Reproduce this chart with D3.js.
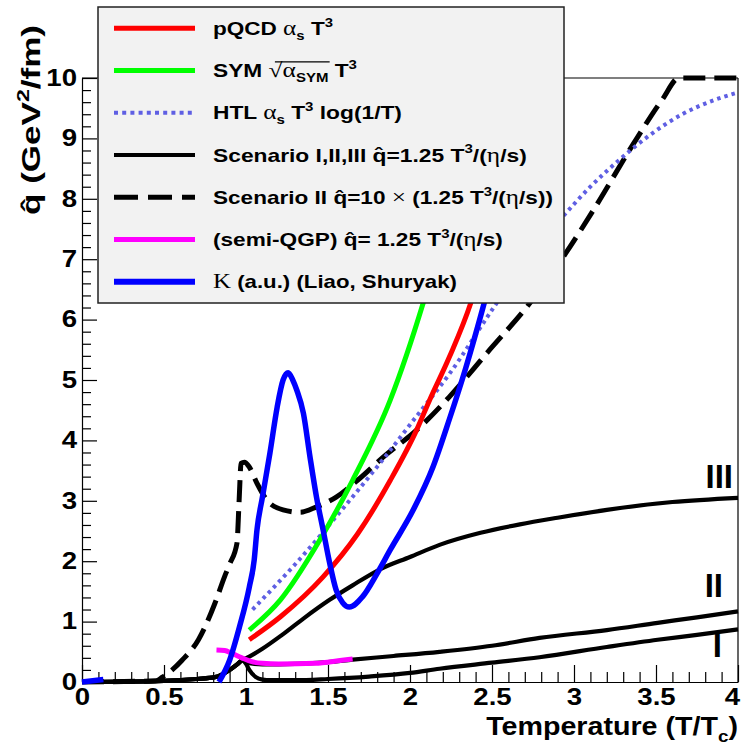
<!DOCTYPE html>
<html><head><meta charset="utf-8">
<script src="https://cdn.jsdelivr.net/npm/d3@7"></script>
<style>
body{margin:0;background:#fff}
svg{display:block}
text{font-family:'Liberation Sans',Arial,Helvetica,sans-serif;font-weight:bold;fill:#000}
</style></head>
<body><svg id="c" width="744" height="745"></svg>
<script>
// ---------- data ----------
const xTicks = [0, 0.5, 1, 1.5, 2, 2.5, 3, 3.5, 4];
const xTickLabels = ["0", "0.5", "1", "1.5", "2", "2.5", "3", "3.5", "4"];
const yTicks = [0, 1, 2, 3, 4, 5, 6, 7, 8, 9, 10];
const yTickLabels = ["0", "1", "2", "3", "4", "5", "6", "7", "8", "9", "10"];

const scenIT = [0, 0.5, 0.7, 0.81, 0.9, 0.95, 0.976, 1.0, 1.02, 1.06, 1.1, 1.15, 1.3, 1.5, 1.75, 2.0, 2.18, 2.5, 2.79, 3.2, 3.51, 3.75, 4.0];
const scenIQ = [0, 0.02, 0.05, 0.08, 0.2, 0.3, 0.36, 0.3, 0.2, 0.08, 0.04, 0.03, 0.03, 0.05, 0.09, 0.15, 0.22, 0.32, 0.41, 0.58, 0.70, 0.78, 0.87];

const scenIIT = [0, 0.5, 0.7, 0.81, 0.9, 0.95, 0.976, 1.02, 1.1, 1.3, 1.5, 1.65, 1.9, 2.18, 2.5, 2.79, 3.2, 3.51, 3.75, 4.0];
const scenIIQ = [0, 0.02, 0.05, 0.08, 0.2, 0.3, 0.36, 0.31, 0.29, 0.3, 0.33, 0.37, 0.43, 0.5, 0.6, 0.73, 0.86, 0.98, 1.07, 1.17];

const scenIIIT = [0, 0.5, 0.7, 0.81, 0.9, 0.95, 0.976, 1.02, 1.1, 1.22, 1.35, 1.51, 1.65, 1.82, 2.0, 2.18, 2.43, 2.67, 2.9, 3.2, 3.6, 4.0];
const scenIIIQ = [0, 0.02, 0.05, 0.08, 0.2, 0.3, 0.36, 0.42, 0.55, 0.78, 1.05, 1.36, 1.6, 1.87, 2.07, 2.27, 2.47, 2.61, 2.72, 2.85, 2.98, 3.05];

const dashT = [0, 0.45, 0.49, 0.55, 0.61, 0.71, 0.81, 0.87, 0.9, 0.945, 0.958, 0.97, 0.99, 1.02, 1.067, 1.128, 1.226, 1.33, 1.43, 1.55, 1.68, 1.84, 2.04, 2.24, 2.47, 2.73, 2.95, 3.12, 3.36, 3.54, 3.64, 4.0];
const dashQ = [0, 0.02, 0.08, 0.2, 0.36, 0.7, 1.3, 1.75, 1.95, 2.3, 3.0, 3.62, 3.64, 3.56, 3.29, 3.01, 2.85, 2.81, 2.9, 3.06, 3.34, 3.73, 4.17, 4.72, 5.45, 6.27, 7.1, 7.82, 8.9, 9.65, 10, 10];

const htlT = [1.04, 1.3, 1.63, 1.84, 2.04, 2.24, 2.51, 2.7, 2.93, 3.1, 3.3, 3.46, 3.66, 3.85, 4.0];
const htlQ = [1.2, 1.95, 3.0, 3.7, 4.4, 5.1, 6.2, 6.95, 7.7, 8.2, 8.7, 9.05, 9.4, 9.63, 9.76];

const pqcdT = [1.02, 1.21, 1.47, 1.68, 1.88, 2.04, 2.12, 2.24, 2.37, 2.45];
const pqcdQ = [0.70, 1.08, 1.74, 2.45, 3.34, 4.17, 4.67, 5.38, 6.27, 7.0];

const symT = [1.02, 1.21, 1.45, 1.65, 1.88, 2.08, 2.2];
const symQ = [0.86, 1.36, 2.35, 3.34, 4.67, 6.27, 7.4];

const semiT = [0.82, 0.87, 0.91, 0.975, 1.03, 1.1, 1.2, 1.42, 1.585, 1.65];
const semiQ = [0.53, 0.52, 0.48, 0.40, 0.34, 0.31, 0.30, 0.31, 0.36, 0.38];

const kLowT = [0, 0.13];
const kLowQ = [0.0, 0.04];
const kT = [0.835, 0.9, 0.96, 1.02, 1.05, 1.067, 1.1, 1.146, 1.19, 1.226, 1.257, 1.285, 1.31, 1.35, 1.39, 1.43, 1.47, 1.51, 1.55, 1.59, 1.63, 1.71, 1.80, 1.88, 2.02, 2.14, 2.24, 2.34, 2.445, 2.55];
const kQ = [0, 0.36, 0.91, 1.57, 2.02, 2.52, 3.06, 3.79, 4.55, 5.0, 5.12, 5.0, 4.83, 4.45, 3.73, 3.06, 2.52, 1.97, 1.52, 1.31, 1.24, 1.41, 1.80, 2.19, 2.85, 3.56, 4.35, 5.2, 6.2, 7.3];

// legend labels: [text, kind] kind: '' normal, 'g' greek/serif, 'sub', 'sup'
const legendLabels = [
  [["pQCD ", ""], ["\u03B1", "g"], ["s", "sub"], [" T", ""], ["3", "sup"]],
  [["SYM ", ""], ["\u221A", "g"], ["\u03B1", "g"], ["SYM", "sub"], [" T", ""], ["3", "sup"]],
  [["HTL ", ""], ["\u03B1", "g"], ["s", "sub"], [" T", ""], ["3", "sup"], [" log(1/T)", ""]],
  [["Scenario I,II,III q\u0302=1.25 T", ""], ["3", "sup"], ["/(", ""], ["\u03B7", "g"], ["/s)", ""]],
  [["Scenario II q\u0302=10 ", ""], ["\u00D7", "g"], [" (1.25 T", ""], ["3", "sup"], ["/(", ""], ["\u03B7", "g"], ["/s))", ""]],
  [["(semi-QGP) q\u0302= 1.25 T", ""], ["3", "sup"], ["/(", ""], ["\u03B7", "g"], ["/s)", ""]],
  [["K", "g"], [" (a.u.) (Liao, Shuryak)", ""]]
];
const legendWidths = [120, 144, 189, 314, 340, 290, 244];
const scenarioNames = ["I", "II", "III"];

// ---------- setup ----------
const svg = d3.select("#c");
const x = d3.scaleLinear().domain([0, 4]).range([82, 738]);
const y = d3.scaleLinear().domain([0, 10]).range([682, 78]);
const line = d3.line().x(d => x(d[0])).y(d => y(d[1])).curve(d3.curveMonotoneX);
const zip = (a, b) => a.map((v, i) => [v, b[i]]);

const styles = {
  black: {stroke: "#000", w: 4.2, dash: null},
  dashed: {stroke: "#000", w: 5, dash: "22,9"},
  htl: {stroke: "#5f5fe3", w: 4, dash: "3.5,4"},
  red: {stroke: "#ff0000", w: 5, dash: null},
  green: {stroke: "#00ff00", w: 5, dash: null},
  magenta: {stroke: "#ff00ff", w: 5, dash: null},
  blue: {stroke: "#0000ff", w: 5.5, dash: null}
};
function drawCurve(g, pts, st) {
  g.append("path").attr("d", line(pts)).attr("fill", "none")
    .attr("stroke", st.stroke).attr("stroke-width", st.w)
    .attr("stroke-linejoin", "round")
    .attr("stroke-dasharray", st.dash);
}

// ---------- frame & axes ----------
const frame = svg.append("g");
frame.append("line").attr("x1", x(0)).attr("x2", x(4)).attr("y1", y(10)).attr("y2", y(10)).attr("stroke", "#000").attr("stroke-width", 1.2);
frame.append("line").attr("x1", x(4)).attr("x2", x(4)).attr("y1", y(10)).attr("y2", y(0)).attr("stroke", "#000").attr("stroke-width", 1.2);

const xMinor = d3.range(0, 41).map(i => i / 10).filter(v => Math.abs(v * 2 - Math.round(v * 2)) > 1e-6);
const yMinor = d3.range(0, 51).map(i => i / 5).filter(v => Math.abs(v - Math.round(v)) > 1e-6);

const sx = 1.2;
const gx = svg.append("g").attr("transform", `translate(0,${y(0)})`)
  .call(d3.axisBottom(x).tickValues(xTicks).tickSizeInner(-17).tickSizeOuter(0).tickPadding(6.5)
    .tickFormat((d, i) => xTickLabels[i]));
gx.append("g").call(d3.axisBottom(x).tickValues(xMinor).tickSizeInner(-10).tickSizeOuter(0).tickFormat(""))
  .select(".domain").remove();
const gy = svg.append("g").attr("transform", `translate(${x(0)},0)`)
  .call(d3.axisLeft(y).tickValues(yTicks).tickSizeInner(-15).tickSizeOuter(0).tickPadding(5)
    .tickFormat((d, i) => yTickLabels[i]));
gy.append("g").call(d3.axisLeft(y).tickValues(yMinor).tickSizeInner(-9).tickSizeOuter(0).tickFormat(""))
  .select(".domain").remove();
svg.selectAll(".domain, .tick line").attr("stroke", "#000").attr("stroke-width", 1.2);
svg.selectAll(".tick text").attr("font-size", 23).attr("font-family", null).attr("fill", "#000");
gx.selectAll(".tick text").attr("transform", (d, i) => (i === xTicks.length - 1 ? "translate(-6,0) " : "") + `scale(${sx},1)`);
gy.selectAll(".tick text").attr("x", 0).attr("transform", `translate(-5,0) scale(${sx},1)`);

// ---------- curves ----------
const cg = svg.append("g");
drawCurve(cg, zip(scenIT, scenIQ), styles.black);
drawCurve(cg, zip(scenIIT, scenIIQ), styles.black);
drawCurve(cg, zip(scenIIIT, scenIIIQ), styles.black);
drawCurve(cg, zip(dashT, dashQ), styles.dashed);
drawCurve(cg, zip(htlT, htlQ), styles.htl);
drawCurve(cg, zip(pqcdT, pqcdQ), styles.red);
drawCurve(cg, zip(symT, symQ), styles.green);
drawCurve(cg, zip(semiT, semiQ), styles.magenta);
drawCurve(cg, zip(kLowT, kLowQ), styles.blue);
drawCurve(cg, zip(kT, kQ), styles.blue);

// scenario labels
const labPos = [[722, 657], [723, 597], [733, 488]];
scenarioNames.forEach((n, i) => {
  svg.append("text").attr("x", labPos[i][0]).attr("y", labPos[i][1]).attr("text-anchor", "end")
    .attr("font-size", 33).text(n);
});

// ---------- rich text helper ----------
function rich(textSel, segs, fs) {
  let cur = 0;
  segs.forEach(([s, k]) => {
    const target = k === "sub" ? 0.28 * fs : k === "sup" ? -0.45 * fs : 0;
    const t = textSel.append("tspan").attr("dy", target - cur).text(s);
    cur = target;
    if (k === "sub" || k === "sup") t.attr("font-size", 0.66 * fs);
    if (k === "g") t.attr("font-family", "'Liberation Serif','Times New Roman',serif").attr("font-weight", "normal").attr("font-size", 1.12 * fs);
  });
  return textSel;
}
function fitted(parent, tx, ty, segs, fs, width, anchor, rot) {
  const g = parent.append("g").attr("transform", `translate(${tx},${ty})` + (rot ? ` rotate(${rot})` : ""));
  const inner = g.append("g");
  const t = inner.append("text").attr("text-anchor", anchor || "start").attr("font-size", fs);
  rich(t, segs, fs);
  const w = t.node().getComputedTextLength();
  inner.attr("transform", `scale(${width / w},1)`);
  return {g, inner, t};
}

// ---------- axis titles ----------
fitted(svg, 738, 735, [["Temperature (T/T", ""], ["c", "sub"], [")", ""]], 26, 252, "end");
fitted(svg, 40, 25, [["q\u0302 (GeV", ""], ["2", "sup"], ["/fm)", ""]], 25, 190, "end", -90);

// ---------- legend ----------
const L = {x: 98, y: 7, w: 466, h: 296};
const lg = svg.append("g");
lg.append("rect").attr("x", L.x).attr("y", L.y).attr("width", L.w).attr("height", L.h)
  .attr("fill", "#f2f2f2").attr("stroke", "#222").attr("stroke-width", 1.5);
const legendStyles = [styles.red, styles.green, styles.htl, styles.black, styles.dashed, styles.magenta, styles.blue];
const rowH = L.h / legendLabels.length;
legendLabels.forEach((segs, i) => {
  const cy = L.y + rowH * (i + 0.5);
  const st = legendStyles[i];
  lg.append("line").attr("x1", 114).attr("x2", 195).attr("y1", cy).attr("y2", cy)
    .attr("stroke", st.stroke).attr("stroke-width", i === 6 ? 6 : st.w)
    .attr("stroke-dasharray", i === 4 ? "24,10" : i === 2 ? "4,4.2" : st.dash);
  const r = fitted(lg, 213, cy + 6.5, segs, 18, legendWidths[i], "start");
  if (i === 1) {
    const node = r.t.node();
    const full = node.textContent;
    const a = full.indexOf("\u03B1");
    const e = full.indexOf("SYM", a) + 2;
    const p0 = node.getStartPositionOfChar(a - 1);
    const p1 = node.getEndPositionOfChar(e);
    r.inner.append("line").attr("x1", p0.x + 5).attr("x2", p1.x + 1)
      .attr("y1", -15).attr("y2", -15).attr("stroke", "#000").attr("stroke-width", 1.2);
  }
});
</script>
</body></html>
